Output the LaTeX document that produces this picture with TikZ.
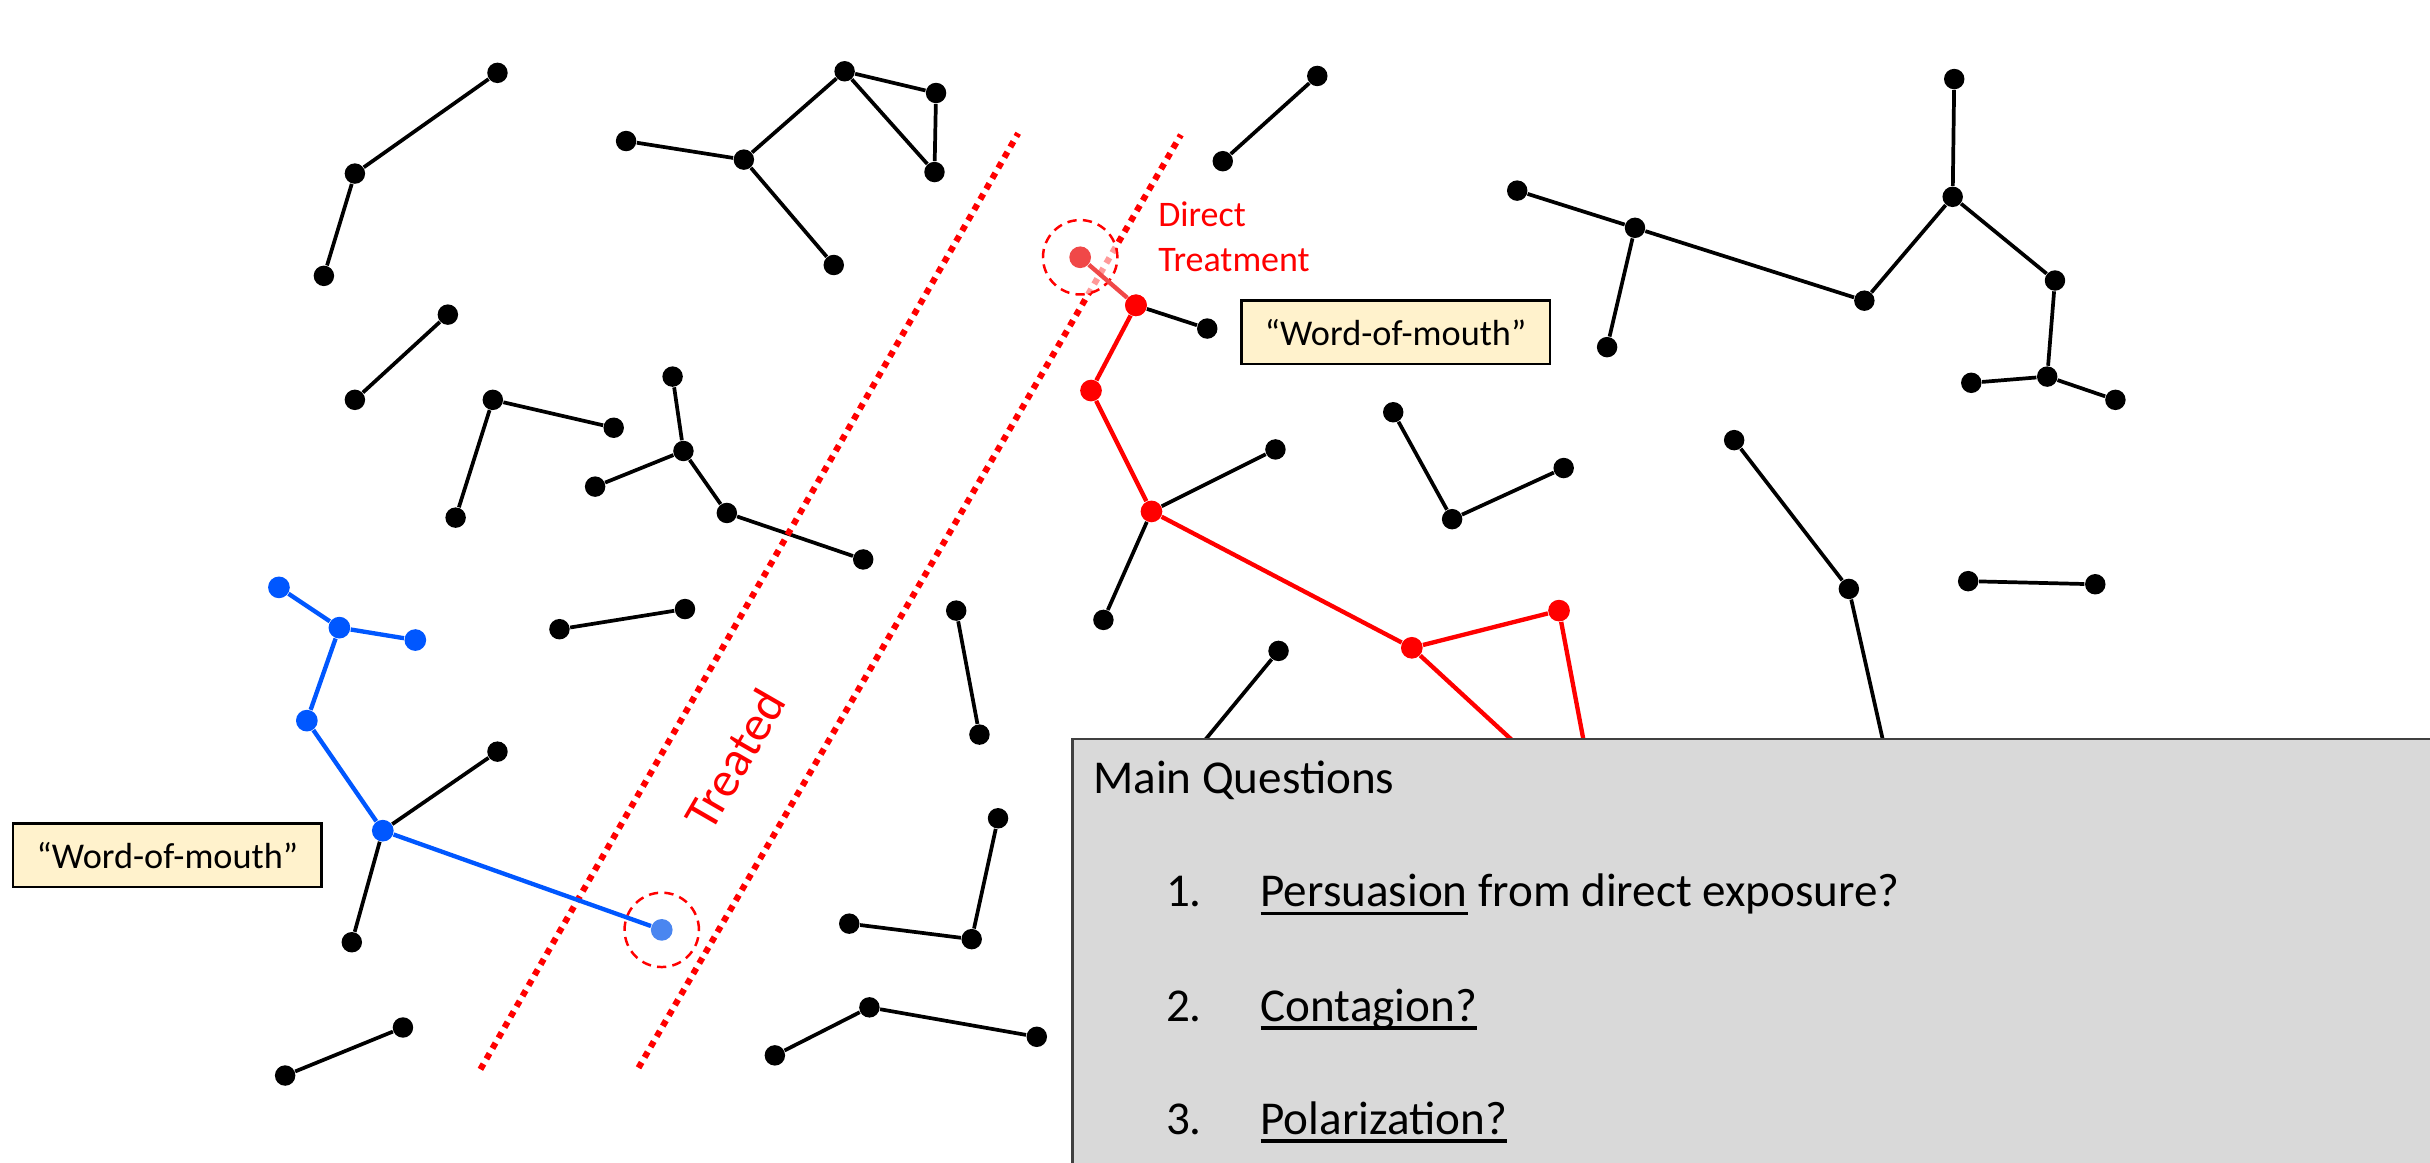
\documentclass[tikz,border=0pt]{standalone}
\usepackage{fontspec}
\setmainfont{Carlito}
\pgfdeclarelayer{edges}
\pgfdeclarelayer{top}
\pgfsetlayers{edges,main,top}
\definecolor{wyellow}{HTML}{FFF2CC}
\definecolor{qgray}{HTML}{D9D9D9}
\definecolor{bblue}{HTML}{0057FF}
\definecolor{lblue}{HTML}{4A86F0}
\definecolor{lred}{HTML}{F04848}
\newcommand\uln[1]{\setbox0\hbox{#1}\rlap{\rule[-2.7pt]{\wd0}{1.1pt}}\box0\relax}
\begin{document}
\begin{tikzpicture}[x=0.5pt,y=-0.5pt,
  vtx/.style={circle,fill=black,inner sep=0pt,minimum size=6.6pt},
  rvtx/.style={vtx,fill=red,minimum size=7pt},
  lrvtx/.style={vtx,fill=lred,minimum size=7pt},
  bvtx/.style={vtx,fill=bblue,minimum size=7pt},
  lbvtx/.style={vtx,fill=lblue,minimum size=7pt},
  ln/.style={draw=black,line width=1.2pt},
  rln/.style={draw=red,line width=1.4pt},
  bln/.style={draw=bblue,line width=1.4pt},
  treatline/.style={draw=red,line width=2pt,dash pattern=on 2pt off 1.9pt},
  ring/.style={draw=red,line width=0.8pt,dash pattern=on 3pt off 2pt,fill=white,fill opacity=0.6,circle,minimum size=24pt,inner sep=0pt},
  wbox/.style={draw=black,fill=wyellow,line width=0.8pt,minimum width=99.5pt,minimum height=20.5pt,inner sep=0pt,font=\fontsize{11.7}{14}\selectfont},
  qtext/.style={anchor=base west,inner sep=0pt,font=\fontsize{15.2}{18}\selectfont},
  rtext/.style={anchor=base west,inner sep=0pt,text=red,font=\fontsize{11.6}{14}\selectfont}
]
\useasboundingbox (0,0) rectangle (1568,750);
\begin{pgfonlayer}{edges}
\fill[white] (0,0) rectangle (1568,750);
\end{pgfonlayer}

% cluster A
\node[vtx] (a1) at (321,47) {}; \node[vtx] (a2) at (229,112) {}; \node[vtx] (a3) at (209,178) {};
% cluster B
\node[vtx] (b1) at (404,91) {}; \node[vtx] (b2) at (480,103) {}; \node[vtx] (b3) at (545,46) {};
\node[vtx] (b4) at (604,60) {}; \node[vtx] (b5) at (603,111) {}; \node[vtx] (b6) at (538,171) {};
% cluster C
\node[vtx] (c1) at (289,203) {}; \node[vtx] (c2) at (229,258) {};
% cluster D
\node[vtx] (d1) at (318,258) {}; \node[vtx] (d2) at (396,276) {}; \node[vtx] (d3) at (294,334) {};
% cluster E
\node[vtx] (e1) at (434,243) {}; \node[vtx] (e2) at (441,291) {}; \node[vtx] (e3) at (384,314) {};
\node[vtx] (e4) at (469,331) {}; \node[vtx] (e5) at (557,361) {};
% cluster F
\node[vtx] (f1) at (361,406) {}; \node[vtx] (f2) at (442,393) {};
% blue cluster
\node[bvtx] (u1) at (180,379) {}; \node[bvtx] (u2) at (219,405) {}; \node[bvtx] (u3) at (268,413) {};
\node[bvtx] (u4) at (198,465) {}; \node[bvtx] (u5) at (247,536) {};
\node[vtx] (k1) at (321,485) {}; \node[vtx] (k2) at (227,608) {};
% bottom left
\node[vtx] (p1) at (184,694) {}; \node[vtx] (p2) at (260,663) {};
% red cluster
\node[rvtx] (r1) at (733,197) {}; \node[vtx] (rb1) at (779,212) {};
\node[rvtx] (r2) at (704,252) {}; \node[rvtx] (r3) at (743,330) {};
\node[vtx] (rb2) at (823,290) {}; \node[vtx] (rb3) at (712,400) {};
\node[rvtx] (r4) at (911,418) {}; \node[rvtx] (r5) at (1006,394) {};
\coordinate (rx1) at (1000,500); \coordinate (rx2) at (1026,500);
% cluster Q
\node[vtx] (q1) at (789,104) {}; \node[vtx] (q2) at (850,49) {};
% right cluster
\node[vtx] (s1) at (979,123) {}; \node[vtx] (s2) at (1055,147) {}; \node[vtx] (s3) at (1037,224) {};
\node[vtx] (s4) at (1203,194) {}; \node[vtx] (s5) at (1260,127) {}; \node[vtx] (s6) at (1261,51) {};
\node[vtx] (s7) at (1326,181) {}; \node[vtx] (s8) at (1321,243) {}; \node[vtx] (s9) at (1272,247) {};
\node[vtx] (s10) at (1365,258) {};
% cluster H
\node[vtx] (h1) at (899,266) {}; \node[vtx] (h2) at (937,335) {}; \node[vtx] (h3) at (1009,302) {};
% cluster I
\node[vtx] (i1) at (1119,284) {}; \node[vtx] (i2) at (1193,380) {};
\coordinate (ix) at (1220,500);
% cluster J
\node[vtx] (j1) at (1270,375) {}; \node[vtx] (j2) at (1352,377) {};
% cluster K
\node[vtx] (m1) at (617,394) {}; \node[vtx] (m2) at (632,474) {};
% cluster L
\node[vtx] (l1) at (825,420) {}; \coordinate (lx) at (759,500);
% cluster M
\node[vtx] (n1) at (548,596) {}; \node[vtx] (n2) at (627,606) {}; \node[vtx] (n3) at (644,528) {};
% cluster N
\node[vtx] (o1) at (500,681) {}; \node[vtx] (o2) at (561,650) {}; \node[vtx] (o3) at (669,669) {};

\begin{pgfonlayer}{edges}
\draw[ln] (a1) -- (a2) -- (a3);
\draw[ln] (b1) -- (b2) -- (b3) -- (b4) -- (b5) -- (b3);
\draw[ln] (b2) -- (b6);
\draw[ln] (c1) -- (c2);
\draw[ln] (d2) -- (d1) -- (d3);
\draw[ln] (e1) -- (e2) -- (e3);
\draw[ln] (e2) -- (e4) -- (e5);
\draw[ln] (f1) -- (f2);
\draw[bln] (u1) -- (u2) -- (u3);
\draw[bln] (u2) -- (u4) -- (u5);
\draw[ln] (u5) -- (k1);
\draw[ln] (u5) -- (k2);
\draw[ln] (p1) -- (p2);
\draw[ln] (r1) -- (rb1);
\draw[rln] (r1) -- (r2) -- (r3) -- (r4) -- (r5);
\draw[ln] (r3) -- (rb2);
\draw[ln] (r3) -- (rb3);
\draw[rln] (r4) -- (rx1);
\draw[rln] (r5) -- (rx2);
\draw[ln] (q1) -- (q2);
\draw[ln] (s1) -- (s2) -- (s4) -- (s5) -- (s6);
\draw[ln] (s2) -- (s3);
\draw[ln] (s5) -- (s7) -- (s8) -- (s9);
\draw[ln] (s8) -- (s10);
\draw[ln] (h1) -- (h2) -- (h3);
\draw[ln] (i1) -- (i2) -- (ix);
\draw[ln] (j1) -- (j2);
\draw[ln] (m1) -- (m2);
\draw[ln] (l1) -- (lx);
\draw[ln] (n1) -- (n2) -- (n3);
\draw[ln] (o1) -- (o2) -- (o3);
\end{pgfonlayer}

% treated band
\coordinate (ta1) at (310,690); \coordinate (ta2) at (657,86);
\coordinate (tb1) at (412,689); \coordinate (tb2) at (762,87);
\draw[treatline] (ta1) -- (ta2);
\draw[treatline] (tb1) -- (tb2);
\node[rotate=60,text=red,font=\fontsize{16}{19}\selectfont] (tr) at (474,490) {Treated};

% rings and treated nodes
\node[ring] (ring1) at (697,166) {};
\node[ring] (ring2) at (427,600) {};
\node[lrvtx] (r0) at (697,166) {};
\node[lbvtx] (u6) at (427,600) {};
\draw[draw=lred,line width=1.4pt] (r0) -- (r1);
\draw[bln] (u5) -- (u6);
\node[rvtx] at (r1) {};

% labels
\node[rtext] (dt1) at (747,146) {Direct};
\node[rtext] (dt2) at (747,175) {Treatment};
\node[wbox] (w1) at (900.5,214.5) {“Word-of-mouth”};
\node[wbox] (w2) at (108,552) {“Word-of-mouth”};

% main questions box
\begin{pgfonlayer}{top}
\draw[fill=qgray,draw=black!75,line width=0.8pt] (692,477) rectangle (1590,770);
\node[qtext] (mq) at (705,512) {Main Questions};
\node[qtext] (n1l) at (752,585) {1.};
\node[qtext] (q1t) at (813,585) {\uln{Persuasion} from direct exposure?};
\node[qtext] (n2l) at (752,659) {2.};
\node[qtext] (q2t) at (813,659) {\uln{Contagion?}};
\node[qtext] (n3l) at (752,732) {3.};
\node[qtext] (q3t) at (813,732) {\uln{Polarization?}};
\end{pgfonlayer}
\end{tikzpicture}
\end{document}
